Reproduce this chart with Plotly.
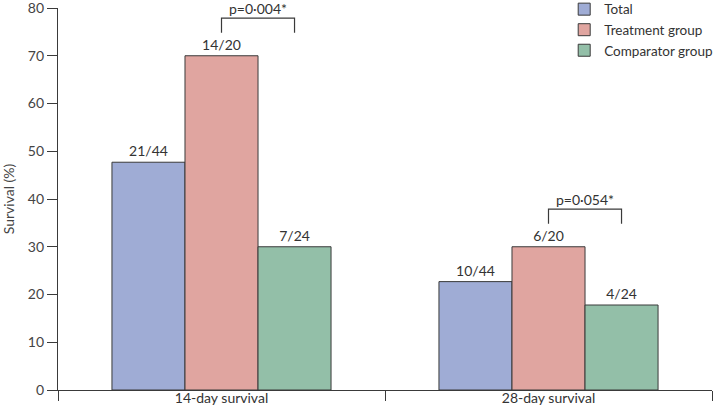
import plotly.graph_objects as go

categories = ["14-day survival", "28-day survival"]
groups = ["Total", "Treatment group", "Comparator group"]
survival = {
    "Total": [47.7, 22.7],
    "Treatment group": [70.0, 30.0],
    "Comparator group": [30.0, 17.8],
}
counts = {
    "Total": ["21/44", "10/44"],
    "Treatment group": ["14/20", "6/20"],
    "Comparator group": ["7/24", "4/24"],
}
p_values = ["p=0·004*", "p=0·054*"]
colors = {
    "Total": "#9facd5",
    "Treatment group": "#e0a5a0",
    "Comparator group": "#93bfa8",
}

FONT = "Lato, Open Sans, sans-serif"
BARGAP = 0.33

fig = go.Figure()
for g in groups:
    fig.add_trace(go.Bar(
        x=categories,
        y=survival[g],
        name=g,
        text=counts[g],
        textposition="outside",
        cliponaxis=False,
        textfont=dict(size=14, color="#333333", family=FONT),
        marker=dict(color=colors[g], line=dict(color="#3a3a3a", width=1)),
    ))

# brackets between treatment and comparator bars
bar_w = (1 - BARGAP) / len(groups)
for i, p in enumerate(p_values):
    x0 = i
    x1 = i + bar_w
    top = survival["Treatment group"][i] + 7.9
    low = survival["Treatment group"][i] + 4.8
    fig.add_shape(
        type="path",
        path=f"M {x0} {low} L {x0} {top} L {x1} {top} L {x1} {low}",
        xref="x", yref="y",
        line=dict(color="#3a3a3a", width=1.2),
    )
    fig.add_annotation(
        x=(x0 + x1) / 2, y=top, text=p, showarrow=False,
        xref="x", yref="y", yanchor="bottom", yshift=-1,
        font=dict(size=14, color="#333333", family=FONT),
    )

fig.update_layout(
    width=715,
    height=412,
    template="plotly_white",
    barmode="group",
    bargap=BARGAP,
    bargroupgap=0,
    margin=dict(l=58, r=3, t=8, b=22, autoexpand=False),
    font=dict(family=FONT, size=14, color="#333333"),
    legend=dict(
        x=0.774, y=1.037, xanchor="left", yanchor="top",
        font=dict(size=13.5, color="#333333"),
        bgcolor="rgba(0,0,0,0)",
        tracegroupgap=0,
        itemwidth=30,
    ),
)
fig.update_yaxes(
    range=[0, 80], dtick=10,
    showgrid=False, zeroline=False,
    showline=True, linecolor="#3a3a3a", linewidth=1.2,
    ticks="outside", ticklen=10, tickcolor="#3a3a3a",
    ticklabeloverflow="allow",
    tickfont=dict(size=14, color="#444444"),
    title=dict(text="Survival (%)", font=dict(size=14, color="#444444"), standoff=14),
)
fig.update_xaxes(
    showgrid=False,
    showline=True, linecolor="#3a3a3a", linewidth=1.2,
    ticks="outside", tickson="boundaries", ticklen=10, tickcolor="#3a3a3a",
    ticklabelstandoff=-5,
    ticklabeloverflow="allow",
    tickfont=dict(size=14, color="#333333"),
)

# page body has a default 8px margin; drop it so the figure fills the window
fig.write_html(
    "out.html",
    config={"displayModeBar": False},
    post_script="document.body.style.margin='0';",
)
